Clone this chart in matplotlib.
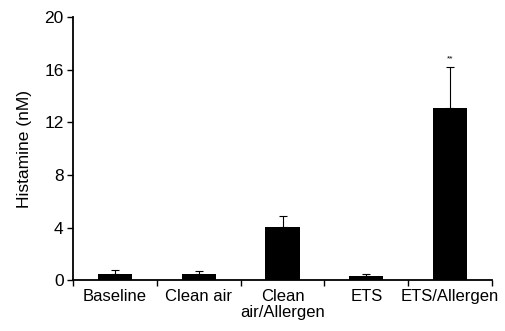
import numpy as np
import matplotlib
matplotlib.use('Agg')
import matplotlib.pyplot as plt

plt.rcParams['font.family'] = ['Liberation Sans', 'DejaVu Sans']

# data
groups = ['Baseline', 'Clean air', 'Clean\nair/Allergen', 'ETS', 'ETS/Allergen']
histamine = [0.5, 0.5, 4.03, 0.36, 13.1]
sem = [0.25, 0.2, 0.87, 0.15, 3.1]
marks = ['', '', '', '', '**']

fig = plt.figure(figsize=(5.05, 3.31), dpi=100)
ax = fig.add_axes([0.145, 0.153, 0.829, 0.796])

x = np.arange(len(groups))
ax.bar(x, histamine, width=0.41, color='black', zorder=2)
ax.errorbar(x, histamine, yerr=[np.zeros(len(sem)), sem], fmt='none',
            ecolor='black', elinewidth=0.8, capsize=3, capthick=0.8, zorder=1)
for xi, h, e, m in zip(x, histamine, sem, marks):
    if m:
        ax.text(xi, h + e + 0.35, m, ha='center', va='bottom', fontsize=6)

ax.set_xlim(-0.5, len(groups) - 0.5)
ax.set_ylim(0, 20)
ax.set_yticks([0, 4, 8, 12, 16, 20])
ax.tick_params(axis='y', labelsize=12.5, length=4, width=1, direction='out', pad=3)

ax.set_xticks(np.arange(len(groups) + 1) - 0.5)
ax.set_xticklabels([])
ax.tick_params(axis='x', which='major', length=4, width=1, direction='out')
ax.set_xticks(x, minor=True)
ax.set_xticklabels(groups, minor=True, fontsize=12, linespacing=1.15)
ax.tick_params(axis='x', which='minor', length=0, pad=6)

ax.set_ylabel('Histamine (nM)', fontsize=12.5, labelpad=9)

for s in ['top', 'right']:
    ax.spines[s].set_visible(False)
for s in ['left', 'bottom']:
    ax.spines[s].set_linewidth(1.3)

fig.savefig('out.png', dpi=100)
